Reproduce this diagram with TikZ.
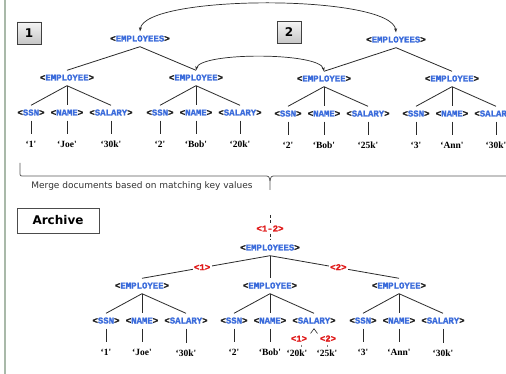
\documentclass[tikz,border=0pt]{standalone}
\usepackage{fontspec}
\setmainfont{Liberation Serif}
\newfontfamily\tagfont{Liberation Mono}[BoldFeatures={FakeBold=1.2}]
\newfontfamily\valfont{Liberation Serif}
\newfontfamily\uifont{DejaVu Sans}
\usetikzlibrary{arrows.meta,calc}
\definecolor{tagblue}{HTML}{3A6BDB}
\definecolor{tagdark}{HTML}{1E1E1E}
\definecolor{mergered}{HTML}{E01818}
\definecolor{edgegray}{HTML}{2A2A2A}
\definecolor{railgreen}{HTML}{A9B9A9}
\definecolor{bracegray}{HTML}{5A5A5A}
\newcommand{\tg}[1]{{\tagfont\bfseries\fontsize{9}{10}\selectfont\textcolor{tagdark}{<}\textcolor{tagblue}{#1}\textcolor{tagdark}{>}}}
\newcommand{\rtg}[1]{{\tagfont\bfseries\fontsize{9}{10}\selectfont\textcolor{mergered}{<#1>}}}
\newcommand{\val}[1]{‘#1\textquotesingle}
\newcommand{\empsub}[5]{%
  \node[tagn] (#1e) at (#2,#3) {\tg{EMPLOYEE}};
  \node[tagn] (#1s) at ({#2-36},{#3+35}) {\tg{SSN}};
  \node[tagn] (#1n) at (#2,{#3+35}) {\tg{NAME}};
  \node[tagn] (#1a) at ({#2+44},{#3+35}) {\tg{SALARY}};
  \node[valn] (#1sv) at ({#2-36},{#3+67}) {\val{#4}};
  \node[valn] (#1nv) at (#2,{#3+67}) {\val{#5}};
  \draw[edge] (#1e.south) -- (#1s.north);
  \draw[edge] (#1e.south) -- (#1n.north);
  \draw[edge] (#1e.south) -- (#1a.north);
  \draw[edge] (#1s.south) -- (#1sv.north);
  \draw[edge] (#1n.south) -- (#1nv.north);
}
\begin{document}
\begin{tikzpicture}[x=1pt,y=-1pt,
  tagn/.style={inner xsep=1pt, inner ysep=4pt, text height=6pt, text depth=1pt},
  valn/.style={font=\valfont\bfseries\fontsize{9.5}{10}\selectfont, inner xsep=1pt, inner ysep=7.5pt, text height=6pt, text depth=1pt},
  redlab/.style={fill=white, inner xsep=1.5pt, inner ysep=1pt, text height=6pt, text depth=1pt},
  edge/.style={draw=edgegray, line width=0.8pt},
  linkarrow/.style={draw=edgegray, line width=0.7pt, {Stealth[length=4pt,width=3pt]}-{Stealth[length=4pt,width=3pt]}},
  numbox/.style={draw=black!75, line width=0.8pt, top color=gray!8, bottom color=gray!45, minimum width=24pt, minimum height=22pt, inner sep=0pt, font=\uifont\bfseries\fontsize{12}{12}\selectfont},
  mergedash/.style={draw=edgegray, line width=0.8pt, dash pattern=on 3pt off 2pt},
  bracec/.style={draw=bracegray, line width=0.8pt}]
\clip (0,0) rectangle (506,374);
\fill[white] (0,0) rectangle (506,374);
\fill[railgreen] (4,0) rectangle (6,374);

% number boxes
\node[numbox] (box1) at (29,33) {1};
\node[numbox] (box2) at (289,32.5) {2};

% tree 1
\node[tagn] (t1E) at (140,39) {\tg{EMPLOYEES}};
\empsub{t1l}{67}{78}{1}{Joe}
\node[valn] (t1lav) at (111,145) {\val{30k}};
\draw[edge] (t1la.south) -- (t1lav.north);
\empsub{t1r}{196}{78}{2}{Bob}
\node[valn] (t1rav) at (240,145) {\val{20k}};
\draw[edge] (t1ra.south) -- (t1rav.north);
\draw[edge] (t1E.south) -- (t1le.north);
\draw[edge] (t1E.south) -- (t1re.north);

% tree 2
\node[tagn] (t2E) at (396,40) {\tg{EMPLOYEES}};
\empsub{t2l}{324}{79}{2}{Bob}
\node[valn] (t2lav) at (368,146) {\val{25k}};
\draw[edge] (t2la.south) -- (t2lav.north);
\empsub{t2r}{452}{79}{3}{Ann}
\node[valn] (t2rav) at (496,146) {\val{30k}};
\draw[edge] (t2ra.south) -- (t2rav.north);
\draw[edge] (t2E.south) -- (t2le.north);
\draw[edge] (t2E.south) -- (t2re.north);

% matching links
\draw[linkarrow] (t2E.north) .. controls (392,-6) and (144,-6) .. (t1E.north);
\draw[linkarrow] (t2le.north) .. controls (320,52) and (200,52) .. (t1re.north);

% brace
\draw[bracec] (20,163) -- (20,172) .. controls (20,176) .. (24,176) -- (264,176) .. controls (269,176) .. (270,181) -- (270,190);
\draw[bracec] (270,181) .. controls (271,176) .. (276,176) -- (506,176);
\node[font=\uifont\fontsize{9}{10}\selectfont, text=black!80] (mergetext) at (142,186.5) {Merge documents based on matching key values};

% archive label
\node[draw=black!70, line width=0.8pt, fill=white, minimum width=82pt, minimum height=25pt, inner sep=0pt, font=\uifont\bfseries\fontsize{12}{12}\selectfont] (archive) at (58,220.5) {Archive};

% merged tree
\coordinate (mtop) at (270,215);
\node[redlab] (m12) at (270,229) {\rtg{1-2}};
\node[tagn] (bE) at (270,248) {\tg{EMPLOYEES}};
\draw[mergedash] (mtop) -- (m12.north);
\draw[mergedash] (m12.south) -- (bE.north);

\empsub{b1}{142}{286}{1}{Joe}
\node[valn] (b1av) at (186,354) {\val{30k}};
\draw[edge] (b1a.south) -- (b1av.north);

\empsub{b2}{270}{286}{2}{Bob}

\empsub{b3}{399}{286}{3}{Ann}
\node[valn] (b3av) at (443,354) {\val{30k}};
\draw[edge] (b3a.south) -- (b3av.north);

\draw[edge] (bE.south) -- node[redlab, pos=0.53] (lab1) {\rtg{1}} (b1e.north);
\draw[edge] (bE.south) -- (b2e.north);
\draw[edge] (bE.south) -- node[redlab, pos=0.53] (lab2) {\rtg{2}} (b3e.north);

% conflicting salary
\coordinate (salL) at (310.5,333.5);
\coordinate (salR) at (317.5,333.5);
\draw[edge, line width=0.6pt] (salL) -- (b2a.south) -- (salR);
\node[redlab] (sal1) at (299,339) {\rtg{1}};
\node[redlab] (sal2) at (328,339) {\rtg{2}};
\node[valn] (b2av1) at (297,354) {\val{20k}};
\node[valn] (b2av2) at (327,354) {\val{25k}};
\coordinate (tk1a) at (301,344.5);
\coordinate (tk1b) at (301,346.5);
\coordinate (tk2a) at (327,344.5);
\coordinate (tk2b) at (327,346.5);
\draw[draw=black!50, line width=0.6pt] (tk1a) -- (tk1b);
\draw[draw=black!50, line width=0.6pt] (tk2a) -- (tk2b);
\end{tikzpicture}
\end{document}
